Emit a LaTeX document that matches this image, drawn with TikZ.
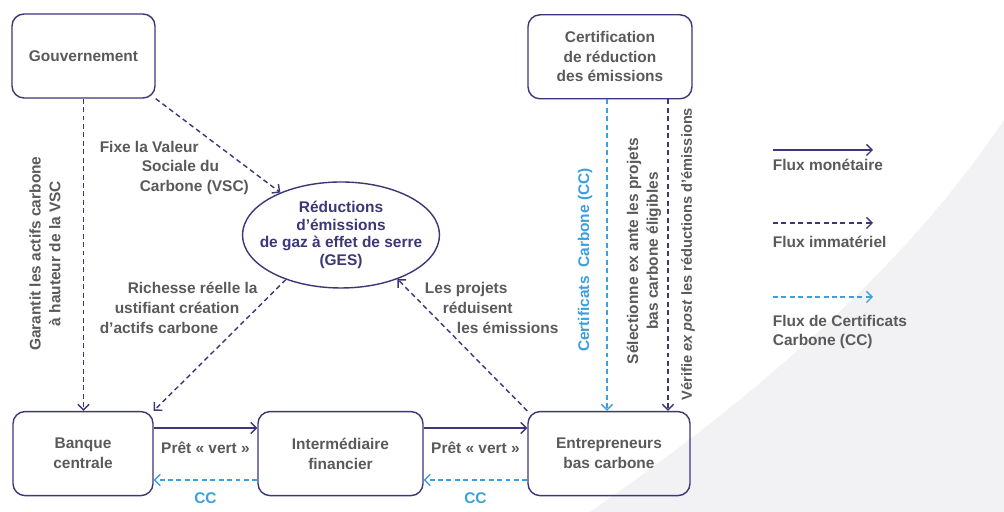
\documentclass[tikz,border=0pt]{standalone}
\usepackage{fontspec}
\setmainfont{Liberation Sans}
\usetikzlibrary{shapes.geometric}
\usetikzlibrary{arrows.meta}
\definecolor{navy}{RGB}{60,55,120}
\definecolor{ccblue}{RGB}{60,160,220}
\definecolor{txtgray}{RGB}{90,90,90}
\definecolor{bggray}{RGB}{242,242,245}
\tikzset{every node/.style={font=\fontsize{11}{14}\selectfont\bfseries},
 box/.style={draw=navy, line width=1pt, rounded corners=0.3cm, minimum height=2.1cm, text=txtgray, align=center},
 ges/.style={draw=navy, line width=1pt, ellipse, minimum width=4.925cm, minimum height=2.65cm, inner sep=0pt},
 lbl/.style={text=txtgray, align=center},
 monflow/.style={draw=navy, line width=1pt, ->},
 immflow/.style={draw=navy, line width=1pt, dash pattern=on 3.5pt off 2.5pt, ->},
 ccflow/.style={draw=ccblue, line width=1pt, dash pattern=on 3.5pt off 2.5pt, ->},
 >={Straight Barb[length=4pt,width=8pt]},
 }

\begin{document}
\begin{tikzpicture}
        \useasboundingbox (0,0) rectangle (25.1,12.8);
        \fill[white] (0,0) rectangle (25.1,12.8);
        \fill[bggray] (14.75,0) .. controls (18.5,2.6) and (22.5,5.9) .. (25.1,9.8) -- (25.1,0) -- cycle;

        \node[box, minimum width=3.575cm] (gouv) at (2.0875,11.4) {Gouvernement};
        \node[box, minimum width=4.1cm] (certif) at (15.25,11.38) {Certification\\de réduction\\des émissions};
        \node[box, minimum width=3.5cm] (banque) at (2.075,1.46) {Banque\\centrale};
        \node[box, minimum width=4.125cm] (inter) at (8.5125,1.46) {Intermédiaire\\financier};
        \node[box, minimum width=4.05cm] (entre) at (15.225,1.46) {Entrepreneurs\\bas carbone};
        \node[ges, label={[text=navy, align=center, font=\fontsize{11}{12.6}\selectfont\bfseries]center:{Réductions\\d'émissions\\de gaz à effet de serre\\(GES)}}] (ges) at (8.525,6.925) {};

        \draw[immflow] (gouv.south) -- (gouv.south |- banque.north);
        \node[lbl, rotate=90] (garlbl) at (1.125,6.46) {Garantit les actifs carbone\\à hauteur de la VSC};

        \draw[immflow] (gouv.south east) -- (ges.145);
        \node[lbl, anchor=west, align=left] (vsclbl) at (2.37,8.6) {Fixe la Valeur\\\hspace*{1.05cm}Sociale du\\\hspace*{1cm}Carbone (VSC)};

        \draw[immflow] (ges.219) -- (banque.north east);
        \node[lbl, anchor=west, align=left] (richlbl) at (2.37,5.1) {\hspace*{0.7cm}Richesse réelle la\\\hspace*{0.375cm}ustifiant création\\d'actifs carbone};

        \draw[immflow] (entre.north west) -- (ges.322);
        \node[lbl, anchor=west, align=left] (projlbl) at (10.5,5.1) {Les projets\\\hspace*{0.45cm}réduisent\\\hspace*{0.8cm}les émissions};

        \coordinate (ccTop) at ([xshift=-0.075cm]certif.south);
        \coordinate (verTop) at ([xshift=1.45cm]certif.south);
        \draw[ccflow] (ccTop) -- (ccTop |- entre.north);
        \draw[immflow] (verTop) -- (verTop |- entre.north);
        \node[lbl, rotate=90, text=ccblue] (cclbl) at (14.625,6.3) {Certificats~~Carbone (CC)};
        \node[lbl, rotate=90] (sellbl) at (16.1,6.525) {Sélectionne ex ante les projets\\bas carbone éligibles};
        \node[lbl, rotate=90, font=\fontsize{10.4}{13}\selectfont\bfseries] (verlbl) at (17.2,6.45) {Vérifie \textit{ex post} les réductions d'émissions};

        \draw[monflow] ([yshift=0.64cm]banque.east) -- ([yshift=0.64cm]inter.west) node[midway, below=6pt, lbl] {Prêt «~vert~»};
        \draw[ccflow] ([yshift=-0.66cm]inter.west) -- ([yshift=-0.66cm]banque.east) node[midway, below=5pt, text=ccblue] {CC};
        \draw[monflow] ([yshift=0.64cm]inter.east) -- ([yshift=0.64cm]entre.west) node[midway, below=6pt, lbl] {Prêt «~vert~»};
        \draw[ccflow] ([yshift=-0.66cm]entre.west) -- ([yshift=-0.66cm]inter.east) node[midway, below=5pt, text=ccblue] {CC};

        \coordinate (monA) at (19.325,9.05);
        \coordinate (monB) at (21.825,9.05);
        \coordinate (immA) at (19.325,7.225);
        \coordinate (immB) at (21.825,7.225);
        \coordinate (ccA) at (19.325,5.375);
        \coordinate (ccB) at (21.825,5.375);
        \draw[monflow] (monA) -- (monB);
        \draw[immflow] (immA) -- (immB);
        \draw[ccflow] (ccA) -- (ccB);
        \node[lbl, anchor=west] (monlbl) at (19.2,8.675) {Flux monétaire};
        \node[lbl, anchor=west] (immlbl) at (19.2,6.74) {Flux immatériel};
        \node[lbl, anchor=west, align=left] (cclgd) at (19.2,4.5) {Flux de Certificats\\Carbone (CC)};
    \end{tikzpicture}
\end{document}
